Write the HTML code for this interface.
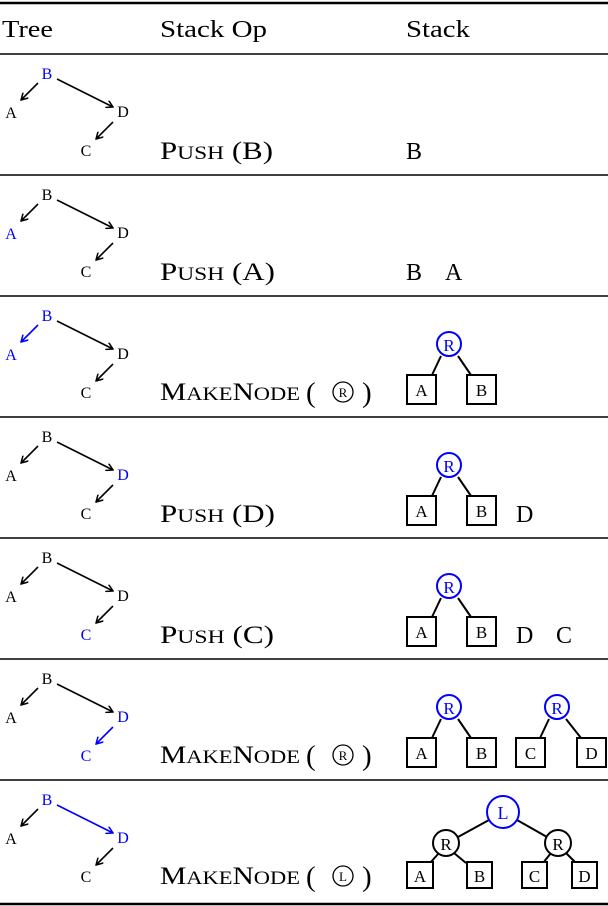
<!DOCTYPE html>
<html><head><meta charset="utf-8"><style>
html,body{margin:0;padding:0;background:#fff;}
svg{display:block;font-family:"Liberation Serif",serif;}
</style></head><body>
<svg width="608" height="906" viewBox="0 0 608 906" xmlns="http://www.w3.org/2000/svg">
<defs>
<marker id="ak" markerWidth="8" markerHeight="8" refX="7" refY="4" orient="auto" markerUnits="userSpaceOnUse"><path d="M0,0 L7,4 L0,8" fill="none" stroke="#000" stroke-width="1.5"/></marker>
<marker id="ab" markerWidth="8" markerHeight="8" refX="7" refY="4" orient="auto" markerUnits="userSpaceOnUse"><path d="M0,0 L7,4 L0,8" fill="none" stroke="#00f" stroke-width="1.5"/></marker>
<g id="sub">
<line x1="441" y1="356" x2="432" y2="375" stroke="#000" stroke-width="2"/>
<line x1="458" y1="356" x2="471" y2="375" stroke="#000" stroke-width="2"/>
<circle cx="449" cy="344" r="12" fill="#fff" stroke="#00f" stroke-width="2"/>
<text x="449" y="351" font-size="17" fill="#00f" text-anchor="middle">R</text>
<rect x="407" y="375" width="29" height="29" fill="#fff" stroke="#000" stroke-width="2"/>
<text x="421.5" y="396" font-size="17" text-anchor="middle">A</text>
<rect x="467" y="375" width="29" height="29" fill="#fff" stroke="#000" stroke-width="2"/>
<text x="481.5" y="396" font-size="17" text-anchor="middle">B</text>
</g>
<g id="mk">
<text x="160" y="0" font-size="25" textLength="140" lengthAdjust="spacingAndGlyphs">M<tspan font-size="19">AKE</tspan>N<tspan font-size="19">ODE</tspan></text>
<text x="306" y="2" font-size="29">(</text>
<text x="362" y="2" font-size="29">)</text>
<circle cx="343" cy="-8" r="10" fill="none" stroke="#000" stroke-width="1.3"/>
</g>
</defs>
<line x1="0" y1="3" x2="608" y2="3" stroke="#000" stroke-width="2.5"/>
<line x1="0" y1="54" x2="608" y2="54" stroke="#000" stroke-width="1.5"/>
<line x1="0" y1="175" x2="608" y2="175" stroke="#000" stroke-width="1.5"/>
<line x1="0" y1="296" x2="608" y2="296" stroke="#000" stroke-width="1.5"/>
<line x1="0" y1="417" x2="608" y2="417" stroke="#000" stroke-width="1.5"/>
<line x1="0" y1="538" x2="608" y2="538" stroke="#000" stroke-width="1.5"/>
<line x1="0" y1="659" x2="608" y2="659" stroke="#000" stroke-width="1.5"/>
<line x1="0" y1="780" x2="608" y2="780" stroke="#000" stroke-width="1.5"/>
<line x1="0" y1="904" x2="608" y2="904" stroke="#000" stroke-width="2.5"/>
<g font-size="24">
<text x="2" y="37" textLength="51" lengthAdjust="spacingAndGlyphs">Tree</text>
<text x="160" y="37" textLength="107" lengthAdjust="spacingAndGlyphs">Stack Op</text>
<text x="406" y="37" textLength="64" lengthAdjust="spacingAndGlyphs">Stack</text>
</g>

<g font-size="16" text-anchor="middle">
<g>
<text x="47" y="79" fill="#00f">B</text><text x="11" y="118">A</text><text x="123" y="117">D</text><text x="86" y="156">C</text>
<line x1="38" y1="83" x2="21" y2="100" stroke="#000" stroke-width="1.6" marker-end="url(#ak)"/>
<line x1="57" y1="79" x2="113" y2="107" stroke="#000" stroke-width="1.6" marker-end="url(#ak)"/>
<line x1="113" y1="122" x2="96" y2="139" stroke="#000" stroke-width="1.6" marker-end="url(#ak)"/>
</g>
<g transform="translate(0,121)">
<text x="47" y="79">B</text><text x="11" y="118" fill="#00f">A</text><text x="123" y="117">D</text><text x="86" y="156">C</text>
<line x1="38" y1="83" x2="21" y2="100" stroke="#000" stroke-width="1.6" marker-end="url(#ak)"/>
<line x1="57" y1="79" x2="113" y2="107" stroke="#000" stroke-width="1.6" marker-end="url(#ak)"/>
<line x1="113" y1="122" x2="96" y2="139" stroke="#000" stroke-width="1.6" marker-end="url(#ak)"/>
</g>
<g transform="translate(0,242)">
<text x="47" y="79" fill="#00f">B</text><text x="11" y="118" fill="#00f">A</text><text x="123" y="117">D</text><text x="86" y="156">C</text>
<line x1="38" y1="83" x2="21" y2="100" stroke="#00f" stroke-width="1.6" marker-end="url(#ab)"/>
<line x1="57" y1="79" x2="113" y2="107" stroke="#000" stroke-width="1.6" marker-end="url(#ak)"/>
<line x1="113" y1="122" x2="96" y2="139" stroke="#000" stroke-width="1.6" marker-end="url(#ak)"/>
</g>
<g transform="translate(0,363)">
<text x="47" y="79">B</text><text x="11" y="118">A</text><text x="123" y="117" fill="#00f">D</text><text x="86" y="156">C</text>
<line x1="38" y1="83" x2="21" y2="100" stroke="#000" stroke-width="1.6" marker-end="url(#ak)"/>
<line x1="57" y1="79" x2="113" y2="107" stroke="#000" stroke-width="1.6" marker-end="url(#ak)"/>
<line x1="113" y1="122" x2="96" y2="139" stroke="#000" stroke-width="1.6" marker-end="url(#ak)"/>
</g>
<g transform="translate(0,484)">
<text x="47" y="79">B</text><text x="11" y="118">A</text><text x="123" y="117">D</text><text x="86" y="156" fill="#00f">C</text>
<line x1="38" y1="83" x2="21" y2="100" stroke="#000" stroke-width="1.6" marker-end="url(#ak)"/>
<line x1="57" y1="79" x2="113" y2="107" stroke="#000" stroke-width="1.6" marker-end="url(#ak)"/>
<line x1="113" y1="122" x2="96" y2="139" stroke="#000" stroke-width="1.6" marker-end="url(#ak)"/>
</g>
<g transform="translate(0,605)">
<text x="47" y="79">B</text><text x="11" y="118">A</text><text x="123" y="117" fill="#00f">D</text><text x="86" y="156" fill="#00f">C</text>
<line x1="38" y1="83" x2="21" y2="100" stroke="#000" stroke-width="1.6" marker-end="url(#ak)"/>
<line x1="57" y1="79" x2="113" y2="107" stroke="#000" stroke-width="1.6" marker-end="url(#ak)"/>
<line x1="113" y1="122" x2="96" y2="139" stroke="#00f" stroke-width="1.6" marker-end="url(#ab)"/>
</g>
<g transform="translate(0,726)">
<text x="47" y="79" fill="#00f">B</text><text x="11" y="118">A</text><text x="123" y="117" fill="#00f">D</text><text x="86" y="156">C</text>
<line x1="38" y1="83" x2="21" y2="100" stroke="#000" stroke-width="1.6" marker-end="url(#ak)"/>
<line x1="57" y1="79" x2="113" y2="107" stroke="#00f" stroke-width="1.6" marker-end="url(#ab)"/>
<line x1="113" y1="122" x2="96" y2="139" stroke="#000" stroke-width="1.6" marker-end="url(#ak)"/>
</g>
</g>

<g font-size="25">
<text x="160" y="159" textLength="113" lengthAdjust="spacingAndGlyphs">P<tspan font-size="19">USH</tspan> (B)</text>
<text x="160" y="280" textLength="115" lengthAdjust="spacingAndGlyphs">P<tspan font-size="19">USH</tspan> (A)</text>
<text x="160" y="522" textLength="115" lengthAdjust="spacingAndGlyphs">P<tspan font-size="19">USH</tspan> (D)</text>
<text x="160" y="643" textLength="114" lengthAdjust="spacingAndGlyphs">P<tspan font-size="19">USH</tspan> (C)</text>
</g>
<use href="#mk" transform="translate(0,400)"/>
<use href="#mk" transform="translate(0,763)"/>
<use href="#mk" transform="translate(0,884)"/>
<g font-size="13" text-anchor="middle">
<text x="343" y="397">R</text><text x="343" y="760">R</text><text x="343" y="881">L</text>
</g>

<g font-size="24">
<text x="406" y="159">B</text>
<text x="406" y="280">B</text><text x="445" y="280">A</text>
<text x="516" y="522">D</text>
<text x="516" y="643">D</text><text x="556" y="643">C</text>
</g>
<use href="#sub"/>
<use href="#sub" transform="translate(0,121)"/>
<use href="#sub" transform="translate(0,242)"/>
<use href="#sub" transform="translate(0,363)"/>
<g transform="translate(0,363)">
<line x1="549" y1="356" x2="540" y2="375" stroke="#000" stroke-width="2"/>
<line x1="566" y1="356" x2="581" y2="375" stroke="#000" stroke-width="2"/>
<circle cx="557" cy="344" r="12" fill="#fff" stroke="#00f" stroke-width="2"/>
<text x="557" y="351" font-size="17" fill="#00f" text-anchor="middle">R</text>
<rect x="516" y="375" width="29" height="29" fill="#fff" stroke="#000" stroke-width="2"/>
<text x="530.5" y="396" font-size="17" text-anchor="middle">C</text>
<rect x="577" y="375" width="29" height="29" fill="#fff" stroke="#000" stroke-width="2"/>
<text x="591.5" y="396" font-size="17" text-anchor="middle">D</text>
</g>
<g>
<line x1="489" y1="820" x2="458" y2="837" stroke="#000" stroke-width="2"/>
<line x1="517" y1="820" x2="547" y2="837" stroke="#000" stroke-width="2"/>
<line x1="439" y1="853" x2="430" y2="863" stroke="#000" stroke-width="2"/>
<line x1="454" y1="853" x2="466" y2="863" stroke="#000" stroke-width="2"/>
<line x1="551" y1="853" x2="543" y2="863" stroke="#000" stroke-width="2"/>
<line x1="566" y1="853" x2="576" y2="863" stroke="#000" stroke-width="2"/>
<circle cx="503" cy="812" r="16" fill="#fff" stroke="#00f" stroke-width="2"/>
<text x="503" y="819" font-size="18" fill="#00f" text-anchor="middle">L</text>
<circle cx="446" cy="843" r="13" fill="#fff" stroke="#000" stroke-width="2"/>
<text x="446" y="850" font-size="17" text-anchor="middle">R</text>
<circle cx="558" cy="843" r="13" fill="#fff" stroke="#000" stroke-width="2"/>
<text x="558" y="850" font-size="17" text-anchor="middle">R</text>
<g fill="#fff" stroke="#000" stroke-width="2">
<rect x="407" y="862" width="26" height="26"/><rect x="467" y="862" width="25" height="26"/>
<rect x="522" y="862" width="25" height="26"/><rect x="572" y="862" width="25" height="26"/>
</g>
<g font-size="17" text-anchor="middle">
<text x="420" y="882">A</text><text x="479.5" y="882">B</text><text x="534.5" y="882">C</text><text x="584.5" y="882">D</text>
</g>
</g>
</svg>
</body></html>
